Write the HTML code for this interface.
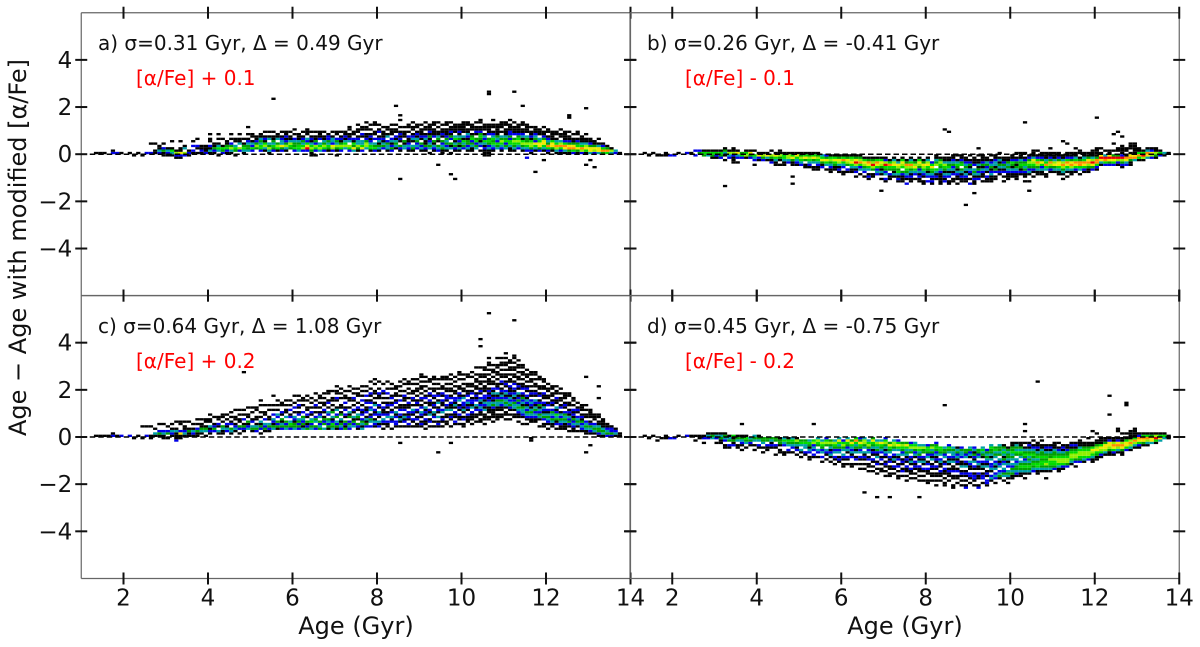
<!DOCTYPE html>
<html>
<head>
<meta charset="utf-8">
<title>Age residuals with modified alpha abundance</title>
<style>
html,body{margin:0;padding:0;background:#fff}
svg{display:block}
text{font-family:"DejaVu Sans","Liberation Sans",sans-serif;fill:#111}
</style>
</head>
<body>
<svg id="chart" xmlns="http://www.w3.org/2000/svg" width="1200" height="647" viewBox="0 0 1200 647">
<rect x="0" y="0" width="1200" height="647" fill="#fff"/>
<g id="cells"></g>
<g id="axes"></g>
<text x="98" y="50" font-size="20">a) σ=0.31 Gyr, Δ = 0.49 Gyr</text>
<text x="136" y="85" font-size="20" style="fill:#f00">[α/Fe] + 0.1</text>
<text x="647" y="50" font-size="20">b) σ=0.26 Gyr, Δ = -0.41 Gyr</text>
<text x="685" y="85" font-size="20" style="fill:#f00">[α/Fe] - 0.1</text>
<text x="98" y="333" font-size="20">c) σ=0.64 Gyr, Δ = 1.08 Gyr</text>
<text x="136" y="368" font-size="20" style="fill:#f00">[α/Fe] + 0.2</text>
<text x="647" y="333" font-size="20">d) σ=0.45 Gyr, Δ = -0.75 Gyr</text>
<text x="685" y="368" font-size="20" style="fill:#f00">[α/Fe] - 0.2</text>
<text x="356" y="634" font-size="24" text-anchor="middle">Age (Gyr)</text>
<text x="905" y="634" font-size="24" text-anchor="middle">Age (Gyr)</text>
<text transform="translate(26,247.5) rotate(-90)" font-size="24" text-anchor="middle">Age − Age with modified [α/Fe]</text>
</svg>
<script>
const xTickValues = [2,4,6,8,10,12,14];
const yTickValues = [-4,-2,0,2,4];
// each entry: [age in tenths of Gyr, lowest offset bin (0.1 Gyr), counts going upward; 0 = empty]
const panelACells = [
[13,0,1],[14,0,1],[15,0,1],[17,0,2,1],[18,0,2],[19,0,1],[21,0,1],[22,-1,1],[23,0,1],[24,-1,1],
[25,0,2],[26,0,2,0,0,0,1],[27,0,1,1,0,0,1],[28,0,2,3,1,1],[29,-1,1,1,4,2,0,1],[30,-1,1,2,3,1],[31,-1,1,3,5,1,0,0,1],
[32,-2,1,2,6,1],[33,-2,1,2,7,1,1,0,0,1],[34,-1,2,6,0,3,1],[35,-1,1,2,1],[36,0,1,2,0,2,0,1],[37,0,1,0,1,2,0,0,1],
[38,0,1,2,1,1],[39,0,2,1,1,1],[40,0,1,3,1,2,0,1,1,0,1],[41,0,1,2,4,1,1],[42,-1,1,0,3,5,3,1,0,1,0,1],
[43,0,2,4,5,1,0,0,1],[44,0,1,2,5,4,1,1],[45,0,1,3,6,4,2,0,1,0,1],[46,-1,1,0,4,5,3,0,1,1],[47,1,2,6,0,3,1,1,0,1],
[48,0,1,3,5,4,1,0,1],[49,1,3,4,4,3,2,1,0,1,0,0,1],[50,1,2,5,2,3,1,0,1,1],[51,1,0,4,6,4,2,1,1],[52,1,2,5,5,3,4,3,1,1],
[53,1,1,3,6,5,1,2,1,0,1],[54,0,1,3,6,4,3,0,3,1,0,1],[55,1,2,4,5,3,4,1,1,0,1],[55,23,1],[56,1,1,5,6,4,0,3,1,1],
[57,1,2,4,7,3,3,2,1,0,1],[58,1,1,3,6,4,2,1,2,1,1],[59,2,4,5,6,3,1,1,0,1],[60,1,2,5,4,4,3,2,0,1,0,1],
[61,1,3,5,5,4,3,1,1,1],[62,1,2,6,5,3,4,2,1,0,1],[63,1,2,9,7,5,2,3,0,1,1,1],[64,-1,1,1,4,6,5,3,1,2,1,0,1],[65,-1,1,0,2,5,6,2,4,1,1,0,1],
[66,1,3,6,5,3,0,2,1,1,1],[67,1,2,5,6,4,3,1,1,0,1],[68,1,1,4,5,3,4,2,2,1],[69,1,2,6,7,2,3,3,1,0,1],[70,-1,1,0,1,4,6,3,4,2,0,1,1],
[71,1,2,5,6,4,1,2,1,0,1],[72,1,0,3,6,5,3,1,2,1,1],[73,1,2,5,6,0,3,2,1,1,0,1,1],[74,1,3,7,4,5,1,2,0,1,1],[75,1,1,4,6,3,3,2,1,0,1,1,0,1],
[76,1,2,7,5,3,3,0,1,2,0,1,1],[77,1,0,3,6,6,4,2,1,1,0,1,1,0,1],[78,1,1,5,5,3,2,1,2,1,0,1,0,1],[79,1,2,5,4,3,0,2,0,1,1,0,0,1,1],
[80,1,1,3,4,1,3,2,1,0,2,1,0,1],[81,1,0,2,4,3,1,2,1,1,1,0,1],[82,1,1,3,3,4,2,0,3,1,0,1,1],[83,1,2,4,2,1,3,2,0,1,1,1,0,1],
[84,1,0,1,3,4,3,1,2,0,1,1,0,1],[84,20,1],[85,1,1,2,4,0,1,2,1,2,1,0,1,0,0,1],[85,16,1],[85,-11,1],[86,1,0,3,3,1,4,0,1,1,1,0,1],[87,1,1,2,3,2,1,1,2,0,1,0,1,1],
[88,1,1,4,3,0,1,3,2,1,0,1,1,0,1],[89,1,0,2,3,2,4,3,1,2,1,0,1,1],[90,1,1,3,2,4,0,1,2,1,1,1,0,1],[91,1,1,2,4,1,1,3,2,1,0,1,1,0,1],
[92,0,1,0,3,4,3,2,1,4,1,2,1,1,1],[93,1,1,2,3,1,4,0,2,1,1,1,0,1,1],[94,1,2,3,4,0,1,4,3,1,1,0,1,0,1],[94,-5,1],[95,0,1,1,4,3,2,4,0,1,2,1,1,0,1],
[96,1,1,3,2,4,3,4,2,1,1,1,0,1,1],[97,0,1,0,3,1,4,0,2,4,1,2,1,1,0,1],[97,-9,1],[98,1,1,2,4,3,1,5,3,0,1,1,1,1],[98,-11,1],[99,1,1,3,1,4,2,4,3,1,2,1,1,1],
[100,1,0,2,4,3,5,1,3,0,1,1,1,1,1],[101,1,1,3,2,4,4,1,2,3,1,1,0,1,1],[102,1,1,1,3,4,2,5,4,1,0,1,1,1],[103,1,0,3,4,2,5,4,0,1,2,1,1,0,1],
[104,1,1,0,2,3,1,4,5,4,2,1,1,0,1,1],[105,-1,1,1,1,2,1,3,5,2,3,1,0,1,1,1],[106,-1,1,1,1,3,2,4,5,4,0,2,1,1,1,1],[106,25,1,1],
[107,1,1,2,3,5,4,5,3,2,1,0,1,1,0,1],[108,1,0,3,4,5,2,3,4,1,1,1,1,1],[109,1,1,2,3,5,6,4,3,0,1,0,1,1,1],[110,1,0,3,4,2,5,4,3,1,1,1,0,1,1],
[111,1,1,1,3,5,5,2,4,2,2,1,1,1,0,1],[112,1,1,3,4,5,6,4,0,2,1,1,1,0,1],[112,26,1],[113,1,0,2,3,5,6,5,4,2,1,1,1,1],[114,1,1,3,4,6,5,1,3,2,1,1,0,1,1],[114,20,1],
[115,1,2,3,5,6,4,4,3,0,1,1,1,1],[115,-2,2],[116,0,1,2,4,6,6,5,1,2,1,1,0,1],[117,1,1,3,5,7,2,4,3,2,1,1,1],[117,-8,1],[118,1,2,4,7,7,5,3,0,1,1,1],
[119,1,1,3,5,7,7,4,2,1,1,0,1],[119,-3,1],[120,0,1,2,5,8,4,3,2,1,0,1,1],[121,1,1,4,7,7,5,1,1,1,1],[122,0,1,3,6,8,5,3,1,0,1,1],[123,0,1,2,5,8,6,3,0,1,1,0,1],
[124,0,1,3,7,8,5,2,1,1,1,1],[125,0,1,4,8,7,4,2,1,1,0,1],[125,15,1,1],[126,0,2,5,8,7,4,1,1,0,1],[127,0,1,4,7,5,4,2,1,0,1,1],[128,0,2,6,8,5,3,1,1,1],
[129,0,1,5,7,6,3,1,1,0,1],[129,19,1],[129,-5,1],[130,0,3,7,7,4,2,1,1],[130,-3,1],[131,0,2,6,7,4,1,1],[131,-6,1],[132,0,3,7,7,3,1,0,1],[133,0,4,8,5,2,1],[134,0,5,8,4,1],[135,0,3,6,1],[136,0,2,3],[137,0,1]
];
const panelBCells = [
[13,0,1],[14,-1,1],[15,0,1],[16,-1,1],[17,-1,1],[18,-1,1,1],[19,-1,2],[20,-1,2],[21,0,1],[23,0,2],[24,0,1],
[25,-1,2,0,2],[26,-1,0,4,2],[27,-1,4,5,1],[28,-1,3,5,1],[29,-2,1,4,5,1],[30,-2,1,2,5,1],[31,-2,2,4,5,1],[32,-3,1,0,1,3,4,1],
[32,-14,1],[33,-2,2,3,6,1],[34,-4,1,1,1,2,6,1,1],[35,-4,1,0,2,3,7,1],[36,-2,2,5,4],[37,-2,1,6,5,1],[38,-2,2,4,7,1],
[39,-5,1,0,2,3,5,0,1],[40,-3,1,2,7,1],[41,-3,2,4,6,1],[42,-3,1,3,7,1],[43,-4,2,1,4,6,0,1],[44,-5,1,1,3,5,7,1],
[45,-5,1,0,1,4,6,1,1],[46,-5,1,1,3,5,5,1],[47,-4,2,3,6,6,1],[48,-5,1,1,4,7,5,1],[48,-10,1],[48,-13,1],[49,-5,1,2,3,5,7,1],
[50,-5,2,3,5,6,4,1],[51,-6,1,1,0,4,7,5,1],[52,-6,1,2,3,5,6,4,1],[53,-7,1,1,0,3,4,7,5,1],[54,-7,1,1,2,3,5,6,4,1],[55,-6,2,1,4,7,5,3],
[56,-7,1,0,3,5,7,4,2],[57,-8,1,1,2,3,4,6,5,1],[58,-7,1,1,4,5,7,5,1],[59,-8,1,2,1,3,6,7,4,1],[60,-9,1,1,0,2,3,5,8,5,1],
[61,-8,1,2,0,4,6,7,4,1],[62,-8,1,1,3,5,7,6,5,1],[63,-10,1,0,2,1,3,6,9,7,4,1],[64,-9,1,0,3,2,5,8,6,4,1],[65,-10,1,0,2,3,4,6,7,5,1],
[66,-11,1,2,1,0,3,5,7,8,4,1],[67,-10,1,1,0,4,6,9,6,4,1],[68,-9,2,3,2,5,7,8,5,1],[69,-11,1,0,1,3,1,4,6,7,5,1],[69,-16,1],
[70,-12,1,2,0,3,2,4,5,9,6,2,1],[71,-11,1,1,2,0,4,5,8,5,1],[72,-10,1,3,1,4,5,7,6,3,1],[73,-12,1,2,1,3,5,4,6,7,3,1],
[74,-12,1,1,1,2,4,0,5,6,7,5,1],[75,-13,2,0,1,2,3,4,5,6,8,4,1],[76,-12,1,1,2,1,3,4,6,8,5,3,1],[77,-11,1,0,2,3,5,7,6,4,1],
[78,-12,1,1,2,1,3,2,4,6,7,5,1],[79,-13,1,1,0,1,2,3,5,6,7,4,1],[80,-12,2,0,2,3,1,4,5,7,6,3,1],[81,-13,1,2,1,2,3,4,5,7,5,2],
[82,-11,1,2,1,3,5,0,6,4,3,1,1],[83,-13,1,1,1,1,1,2,3,4,5,6,4,1],[84,-12,2,1,2,3,1,4,5,6,3,1,1],[84,10,1],[85,-13,1,1,0,2,3,1,3,5,4,3,1,1],[85,9,1],
[86,-12,1,1,0,2,1,3,2,4,3,2,1,1],[87,-13,1,0,1,1,2,3,1,4,5,3,1,0,1],[88,-12,1,1,2,1,3,4,0,5,4,2,1,1],[89,-12,1,1,2,3,1,3,4,3,2,1,1],[89,-22,1],
[90,-13,2,0,1,0,1,2,3,1,4,2,1,0,1],[91,-13,1,1,2,1,3,4,3,0,2,1,1,1],[91,-17,1],[92,-11,2,1,3,2,4,1,3,1,1,0,1],[92,2,1],[93,-12,1,0,1,1,2,3,1,4,2,1,1,1],
[94,-12,1,1,2,0,1,3,2,4,3,1,1],[95,-12,1,1,1,3,2,1,4,3,2,1,0,1],[96,-11,1,1,0,2,4,1,3,3,2,1,1],[97,-9,1,2,1,3,4,1,3,1,0,1],[98,-12,1,0,1,0,2,1,3,4,2,1,1],
[99,-11,1,1,1,2,3,4,3,4,1,1],[100,-10,1,1,2,3,1,4,5,2,1,1],[101,-11,1,1,1,2,3,4,1,4,2,1,0,1],[102,-9,1,2,1,4,5,4,3,1,1,1],[103,-12,1,0,1,1,2,4,3,5,4,2,1,0,1],
[103,13,1],[104,-12,1,0,0,1,3,2,4,5,6,4,2,1],[104,-16,1],[105,-10,1,0,1,2,4,5,6,7,3,1,1,1],[106,-9,1,1,3,4,6,8,5,2,1,0,1],[107,-9,1,1,3,2,5,7,4,2,1,1],
[108,-10,1,1,0,3,5,8,5,3,1,1,1],[109,-8,1,2,4,6,8,4,2,1,1,0,1],[110,-8,1,3,4,7,6,3,1,1,1],[111,-9,1,1,3,5,7,7,4,2,1,1],[112,-11,1,0,1,3,4,6,8,6,3,1,1],[112,5,1],
[113,-10,1,0,1,3,5,7,8,5,2,1,1],[113,4,1],[114,-9,1,1,3,6,8,7,4,2,1,1],[115,-8,1,2,5,7,8,5,3,1,1,0,1],[116,-9,1,0,3,5,8,8,4,1,0,1,1],
[117,-8,1,2,5,7,8,5,3,1,1],[118,-8,1,1,4,6,8,7,4,1,1],[119,-7,2,4,7,9,6,3,1,1,1],[120,-7,1,2,5,8,8,4,1,1,1,1],[120,15,1],
[121,-5,1,3,7,9,7,1,0,1],[122,-5,2,5,8,9,3,0,1],[123,-5,2,4,7,9,7,1,1],[124,-5,2,5,7,9,4,0,1],[124,4,1],[124,8,1],[125,-5,1,2,6,9,4,0,1,1],[125,9,1],
[126,-6,1,2,4,6,9,2,1,1,1,1],[126,7,1],[127,-5,2,3,7,8,1,0,1,1],[128,-5,1,1,4,8,7,1,0,1,1,1],[129,-3,3,8,7,1,1,1,1,1],[130,-3,1,5,8,5,1,1],
[131,-3,1,6,9,5,1],[132,-2,3,7,8,3,1],[133,-2,2,6,7,2,1],[134,-2,1,4,6,1,1],[135,-1,2,5,1],[136,-1,1,3],[137,0,1]
];
const panelCCells = [
[13,0,1],[14,0,1],[15,0,1],[16,0,1],[17,0,2,1],[18,0,1],[19,0,2],[21,0,2],[22,-1,1],[23,0,1],[24,-1,1,0,0,0,0,1],
[25,0,2,0,0,0,1],[26,-1,1,1,0,0,0,1],[27,0,1,3,0,1],[28,0,1,4,2,0,0,1],[29,-1,1,1,3,2,0,0,1],[30,-1,1,0,4,2,0,1],[31,0,1,2,3,1,0,1],
[32,-2,2,1,1,1,3,1,0,0,1],[33,-1,1,1,7,2,0,0,1,1],[34,0,1,3,2,1,1,0,1],[35,0,1,1,4,1,0,0,1],[36,0,1,2,3,1,0,1],[37,0,1,1,4,2,0,1,0,1],
[38,1,1,3,4,1,1,0,1],[39,0,1,0,3,4,1,0,1,1],[40,1,1,2,1,3,0,1,1,0,1],[41,1,0,2,4,2,1,0,0,1],[42,1,1,3,0,1,2,0,1,1],[43,1,1,1,3,4,0,1,0,1,1],
[44,1,0,2,3,1,2,0,1,0,1],[45,1,1,3,4,0,2,1,0,1,0,1],[46,2,1,3,2,1,0,1,1,0,0,1],[47,1,1,0,2,4,0,1,1,0,1,0,1],[48,2,1,2,4,1,0,2,0,1,0,1],
[48,27,1],[49,2,0,3,2,1,4,0,1,1,0,0,1],[50,2,1,4,3,0,2,1,0,0,1,0,1],[51,2,2,4,3,1,0,1,1,0,0,1,1],[52,1,1,0,2,4,1,3,0,1,0,1,0,0,1,0,1],
[53,2,1,4,2,3,0,2,0,1,1,0,0,1],[54,2,1,2,4,3,0,1,1,0,0,1,0,1],[55,2,0,3,4,1,2,3,0,2,0,1,0,1,0,0,0,1],[56,3,1,4,2,4,0,2,3,0,1,0,1,0,1],
[57,3,2,4,3,1,4,0,1,2,0,0,1,1],[58,3,3,4,2,4,0,3,0,1,1,0,1,0,1],[59,3,2,4,5,3,0,2,1,0,2,0,1,0,1],[60,3,3,4,4,1,2,3,0,1,0,2,0,1,0,0,1],
[61,3,2,4,2,4,3,0,2,1,0,1,2,0,1,0,1],[62,3,3,1,4,2,3,4,0,2,0,0,1,0,1,1],[63,3,4,2,1,4,0,1,2,0,1,1,0,0,1,0,1],[64,3,3,4,2,5,3,0,1,2,0,1,0,1,0,1],
[65,3,2,4,0,3,4,2,0,1,0,1,2,0,1,0,0,1],[66,3,4,3,2,4,0,3,2,1,0,1,0,1,0,1,1],[67,3,3,0,4,2,4,1,0,1,2,0,1,1,0,1,0,1],[68,3,1,4,2,3,4,0,2,3,0,1,0,2,1,0,0,1,1],
[69,3,3,4,5,2,1,3,0,4,1,0,1,0,1,1,0,0,1],[70,3,1,4,2,3,0,4,2,0,3,1,0,0,1,2,0,1,1,0,1],[71,3,2,3,4,1,3,0,4,1,0,1,1,0,0,1,0,1,0,1],
[72,3,4,1,2,4,0,1,2,0,2,1,0,2,0,1,1,0,1],[73,3,2,3,4,2,0,4,1,3,0,1,0,0,1,1,0,0,1,0,1],[74,4,3,2,4,1,3,0,1,2,0,1,0,1,2,0,1,0,1],
[75,3,1,2,4,0,1,4,3,0,1,2,0,1,0,0,1,1,0,1],[76,3,3,1,3,4,2,0,2,1,2,0,1,0,2,0,1,0,1,0,1],[77,4,2,4,1,3,1,0,2,1,1,0,2,1,0,2,0,1,0,1],
[78,4,2,0,3,4,2,1,0,3,2,0,2,1,0,1,2,0,1,0,0,1],[79,4,1,2,3,1,0,2,1,2,0,3,1,0,1,0,1,1,0,0,1,0,1],[80,4,2,1,3,0,1,2,3,0,1,2,0,0,1,1,2,0,1,0,0,1],
[81,3,1,0,1,2,3,0,2,1,1,2,0,1,0,1,0,1,2,0,0,1],[82,4,1,1,2,0,3,2,1,0,1,2,1,0,1,0,2,0,1,0,0,1],[83,3,1,0,0,2,1,3,0,2,1,0,2,1,0,2,1,0,0,1,0,1],
[84,4,1,2,2,0,2,1,3,0,1,0,2,1,0,1,1,0,1,1],[85,4,1,0,1,3,1,2,0,2,1,1,0,2,0,1,0,1,0,1,0,1],[85,-3,1],[86,4,1,0,2,1,3,1,0,2,1,1,0,1,1,2,0,1,0,0,1,0,1],
[87,4,1,2,0,1,2,1,2,0,1,1,2,0,1,0,1,0,1,0,1,1],[88,4,1,0,1,2,0,1,2,3,0,1,0,1,2,0,1,1,0,0,1,0,1],[89,4,1,1,0,2,1,0,1,2,0,1,2,1,0,1,0,1,1,0,1,0,1],
[90,4,1,2,1,0,1,2,3,0,2,1,0,1,2,0,1,0,1,1,0,1,0,1,1],[91,3,1,0,1,1,2,0,1,2,1,3,0,1,0,2,1,0,1,0,1,0,1,0,1],[92,4,1,0,2,1,0,3,1,2,0,1,1,2,0,1,2,0,1,0,0,1,1],
[93,4,1,0,1,0,2,1,3,0,1,2,1,0,1,2,0,1,1,0,1,0,1,1],[94,4,1,2,1,0,3,0,1,2,1,0,3,1,0,2,1,0,1,0,1,0,1],[94,-7,1],[95,4,1,0,1,2,1,0,3,2,0,1,1,2,0,1,2,0,1,1,0,0,1,1],
[96,5,1,1,0,1,1,0,3,1,2,0,1,2,2,0,1,1,0,1,0,1,1],[97,4,1,0,0,1,2,1,0,3,1,1,2,0,2,1,0,1,1,0,1,0,1,0,1],[97,-3,1],[98,5,1,2,0,1,1,2,0,1,3,1,2,2,0,1,1,0,1,0,1,0,1],
[99,5,1,0,1,1,2,0,1,2,1,0,3,2,1,2,0,1,1,0,0,1,0,1,1],[100,4,1,1,0,2,1,0,1,3,1,2,2,0,3,1,0,1,1,0,1,0,1,0,1],[101,6,1,1,1,2,0,1,2,1,3,2,0,2,1,1,0,1,1,0,0,1,1],
[102,5,1,0,1,1,1,2,0,3,1,2,2,1,0,2,1,0,1,1,0,0,1,0,1],[103,6,1,0,1,1,0,2,1,3,0,2,1,2,1,0,1,1,0,1,1,0,1,0,0,1],[104,6,1,1,0,1,1,2,3,2,1,3,2,0,1,2,1,0,1,1,0,1,1,0,0,1],
[104,38,1],[104,41,1],[105,5,1,0,1,1,1,0,3,1,2,3,1,2,2,0,1,1,1,0,1,0,1,1,0,1,1],[106,7,1,1,0,1,1,1,3,3,2,1,2,1,2,1,0,1,1,1,0,1,0,1,0,1,1,0,1],[106,52,1],
[107,6,1,0,1,1,1,1,2,4,3,1,2,1,3,1,2,0,1,1,0,1,0,1,1,0,1],[108,7,1,1,1,0,1,1,3,3,4,2,1,3,0,2,1,1,0,1,0,1,1,0,1,1,0,0,1],[109,8,1,1,0,1,1,2,3,4,2,3,1,2,1,0,1,2,0,1,1,0,1,0,1,1,0,1],
[110,7,1,0,1,1,0,1,3,4,3,2,1,3,2,0,1,2,1,0,1,1,0,1,0,1,1,0,1,0,1],[111,7,1,0,1,0,1,2,4,3,2,3,1,2,1,1,2,0,1,1,0,1,0,1,1,0,1,1],[112,8,1,1,0,1,3,3,4,2,1,3,2,1,2,0,2,1,0,1,1,0,1,1,0,1,0,1,1],[112,49,1],
[113,6,1,0,1,1,2,3,4,3,2,4,2,1,3,0,1,2,1,0,1,1,0,1,0,1,1,0,1],[114,5,1,0,0,1,2,3,3,4,1,3,2,4,1,2,0,2,1,1,0,1,0,1,1,0,1,1],[115,5,1,0,1,2,3,4,2,3,1,2,3,1,2,0,1,2,1,0,1,0,1,1,0,1],[116,-2,1,1,0,0,0,0,0,0,1,1,2,3,4,3,1,2,3,2,0,1,2,1,0,1,0,1,1,0,1,1],
[117,6,1,1,2,3,2,4,3,1,2,3,0,1,2,1,0,1,1,0,1,0,1,1],[118,4,1,0,0,1,3,4,2,3,1,4,2,1,0,2,1,0,1,1,0,0,1,1],[119,4,1,1,0,2,4,3,1,2,3,1,2,0,1,1,2,0,1,1,0,1,1],
[120,3,1,0,1,2,3,4,3,1,2,0,2,1,0,1,1,0,1,1,0,1],[121,4,1,1,3,4,2,3,4,2,0,1,2,1,0,1,1,0,1,1],[122,3,1,0,2,1,4,3,5,2,1,3,0,1,1,2,0,1,1,0,1],[123,3,1,1,2,3,4,2,3,1,0,2,1,0,1,1,0,1,0,1],
[124,3,1,1,1,3,4,3,4,2,0,1,2,1,0,1,1,1],[125,2,1,0,1,2,4,2,3,1,2,1,0,1,1,0,0,1,1],[126,2,1,1,2,3,2,4,1,2,1,2,0,1,0,1,1],[127,2,1,0,1,3,4,3,2,0,1,2,1,0,1],[128,2,1,2,3,2,4,1,2,1,0,1,1,1],
[129,1,1,1,3,4,3,2,0,1,1,0,1,0,1],[129,25,1],[129,-7,1],[130,1,1,2,3,4,2,1,0,1,1,1,1],[130,-4,1],[131,1,1,3,4,3,2,0,1,1,1],[132,0,1,2,4,4,3,1,1,0,1,1],[132,16,1,0,0,0,0,1],[133,0,1,3,4,3,1,1,1,1],[134,0,2,4,3,2,1,1],[135,0,2,4,2,2,1],[136,0,1,3,2,1],[137,0,1,1]
];
const panelDCells = [
[13,0,1],[14,-1,1],[15,0,1],[16,-2,1],[17,-1,1],[18,-1,1,1],[19,-1,2],[20,-1,2],[21,0,1],[23,0,2],[24,0,1],[25,-2,1,0,1],
[26,-1,1,1],[27,-3,1,0,2,1],[28,-1,2,3,1],[29,-1,3,4,1],[30,-3,1,0,2,3,1],[31,-3,1,1,4,3,1],[32,-5,1,1,0,2,3,4,1],[33,-5,1,2,0,4,3,1],[34,-4,2,1,4,1,5],[35,-5,1,1,0,3,4,1],
[36,-6,1,0,1,2,3,4,1],[36,5,1],[37,-5,1,0,3,4,5,1],[38,-4,1,2,4,3],[39,-6,1,0,1,0,3,4,3],[40,-5,1,2,0,3,4,1],[41,-7,1,0,1,0,3,4,4],[42,-6,1,1,2,0,4,4],
[43,-5,1,2,1,3,4],[44,-8,1,0,0,1,2,0,4,4],[45,-7,1,1,0,1,4,4,1],[46,-8,1,1,0,0,2,3,5,3],[47,-7,1,2,0,3,4,5,1],[48,-7,1,0,2,3,4,5,3],[49,-8,1,0,2,1,3,4,6,1],
[50,-9,1,0,1,3,0,3,5,4],[51,-8,1,2,0,3,3,5,4],[52,-10,1,1,0,2,3,1,4,5,3],[53,-9,1,2,0,2,3,2,6,5],[53,5,1],[54,-9,1,0,2,3,0,4,5,6,3],[55,-11,1,0,2,0,3,2,4,5,6,3],
[56,-10,1,0,1,2,3,0,4,6,5,2],[57,-11,1,0,1,3,2,1,3,4,6,4],[58,-12,1,0,1,2,0,3,2,4,5,6,3],[59,-11,1,2,1,0,3,2,4,3,5,7,3],[60,-13,1,1,0,1,2,3,0,3,4,6,5,2],
[61,-12,1,0,1,2,0,1,3,2,4,5,7,3],[62,-13,1,1,0,0,2,1,3,2,3,5,7,4],[63,-12,1,0,2,1,0,3,1,4,3,5,8,5],[64,-14,1,0,1,0,1,2,0,3,2,4,5,7,4,2],
[65,-14,1,0,1,0,1,2,1,3,0,3,4,6,6,3],[65,-24,1],[66,-15,1,0,1,1,0,2,1,0,3,2,4,6,5,3],[67,-15,1,0,1,0,1,2,0,1,2,1,3,4,5,7,4],[68,-16,1,0,1,0,2,1,0,3,1,2,4,3,5,6,3],[68,-26,1],
[69,-15,1,1,0,1,0,2,1,0,2,3,4,5,7,3],[70,-17,1,0,1,0,1,2,1,0,1,2,3,1,3,4,6,5,2],[71,-17,1,1,0,1,1,0,2,1,2,0,3,4,5,7,4],[71,-26,1],[72,-16,1,0,1,2,0,1,3,1,2,0,3,4,6,6,3],
[73,-18,1,1,0,1,0,2,1,0,2,1,3,0,3,5,7,5,2],[74,-17,1,0,2,1,0,1,2,1,0,3,2,4,5,6,4],[75,-19,1,0,1,0,1,1,2,0,1,2,1,3,4,3,5,7,4],[76,-18,1,0,1,1,2,0,1,3,1,2,0,4,3,6,5,2],
[77,-18,1,0,1,0,1,2,1,2,0,1,3,2,4,6,5,3],[78,-26,1,0,0,0,0,0,0,1,0,1,0,1,1,2,0,3,1,2,4,3,5,6,3],[79,-19,1,0,1,0,1,2,0,1,3,1,2,0,4,4,6,3],[80,-20,1,1,0,0,1,1,2,0,2,1,0,3,2,4,5,5,2],
[81,-19,1,0,1,1,0,1,2,1,0,3,1,2,4,3,6,4],[82,-21,1,0,1,0,1,1,0,1,2,0,1,2,1,3,2,4,5,4,2],[83,-19,1,0,1,1,2,0,1,1,3,2,0,3,4,5,5],[84,-21,1,1,0,1,0,1,1,2,0,2,1,0,3,2,4,4,3],[84,13,1],
[85,-19,1,0,1,1,2,1,0,1,3,1,2,0,3,4,5,2],[86,-22,1,1,0,0,1,1,0,2,1,1,0,3,1,2,3,3,4,3],[87,-20,1,0,1,1,0,2,1,0,1,2,1,3,2,4,3,1],[88,-21,1,0,1,0,1,2,1,0,3,1,1,0,2,3,3,4,2],
[89,-22,2,1,0,1,0,1,2,1,0,3,1,2,0,3,2,4,4],[90,-20,1,0,1,2,2,0,1,1,2,3,0,1,3,2,4,3],[91,-21,1,0,1,2,2,1,0,1,2,0,3,1,2,4,1,3,2],[92,-22,2,1,0,0,1,1,2,0,1,1,3,2,0,3,2,4,4],
[93,-20,1,0,2,2,1,0,1,3,1,2,0,1,4,3,5,3],[94,-21,1,2,2,0,1,2,1,0,3,1,2,3,4,3,4,2],[95,-19,1,3,2,0,1,3,2,2,0,3,1,3,4,4,5,3],[96,-20,1,0,2,3,2,0,3,1,3,2,0,3,4,3,5,4],
[97,-18,1,4,3,2,0,3,2,1,3,0,4,3,4,4,3],[98,-19,1,0,3,4,2,3,0,3,2,4,1,3,5,3,4,1],[99,-20,1,0,1,3,4,3,0,2,3,1,3,4,4,3,4,1],[100,-18,1,1,4,3,4,2,3,0,3,4,3,5,4,4,1,1],
[101,-17,1,2,3,4,4,3,2,3,0,4,5,3,4,3,1],[102,-17,1,1,3,4,5,4,3,0,3,4,5,3,4,1,1],[103,-18,1,0,1,3,4,5,4,3,2,4,5,4,3,1,0,1],[103,2,1],[103,5,1],[104,-16,1,3,4,5,4,3,4,3,5,4,3,1,2,1],
[105,-15,2,3,4,5,4,3,4,5,4,3,2,1,0,1],[106,-16,1,1,3,5,5,4,3,5,4,3,1,2,1,1],[106,23,1],[107,-15,1,3,4,5,5,4,5,4,4,3,1,1,0,1],[108,-18,1,0,0,1,3,4,6,5,4,5,4,3,1,2,1],[109,-15,1,3,4,5,5,6,4,4,3,1,2,1],[110,-14,2,4,5,5,6,5,4,4,3,1,1,1],
[111,-15,1,1,3,5,6,6,5,4,3,2,1,0,1],[112,-14,1,2,5,6,6,5,4,3,1,2,1],[113,-13,2,4,6,6,5,4,4,2,1,1],[114,-12,1,3,5,6,6,5,4,1,2,1],[115,-13,1,0,2,4,6,6,5,4,1,2,1],[116,-11,2,4,5,6,6,5,3,1,1,1],
[117,-11,1,3,5,6,6,5,4,1,1],[118,-10,2,5,6,6,5,4,1,1,0,1],[119,-11,1,1,3,5,6,7,5,1,1],[119,2,1],[120,-10,1,1,4,5,7,6,4,1,1],[120,1,1],[121,-9,1,2,5,6,7,5,1,1,1],[122,-8,1,3,6,7,7,4,1,1],
[123,-8,1,1,4,6,7,7,2,1],[123,9,1],[123,17,1],[124,-8,1,2,5,7,8,6,1,1],[125,-7,1,3,6,8,7,2,1],[125,2,1,1],[126,-8,1,1,4,7,8,6,1,1,0,1],[127,-6,2,5,7,7,5,1,0,1],[127,13,1],[127,14,1],
[128,-6,1,3,6,8,6,1,1,1,1],[129,-5,1,3,6,8,5,1,1,1,1],[130,-5,1,2,5,7,8,2,1],[131,-4,1,4,7,8,5,1],[132,-4,1,3,6,8,5,1],[133,-3,3,7,7,4,1],[134,-3,1,5,9,6,1],[135,-2,3,7,5,1],[136,-1,3,5,1],[137,-1,1,1]
];

const cellWidthGyr = 0.1;
const cellHeightGyr = 0.1;
const xPixelsPerGyr = 42.25;
const yPixelsPerGyr = 23.58;
const ns = 'http://www.w3.org/2000/svg';
const cellLayer = document.getElementById('cells');
const axisLayer = document.getElementById('axes');

function xScale(panel, age) { return panel.left + (age - 1) * xPixelsPerGyr; }
function yScale(panel, value) { return panel.zero - value * yPixelsPerGyr; }
function colorForCount(count) {
  const palette = ['#000000','#0000e8','#00a0a8','#00a000','#00dc00','#90f000','#f0e800','#ff8c00','#e80000'];
  return palette[Math.max(0, Math.min(palette.length - 1, Math.round(count) - 1))];
}
function addLine(x1, y1, x2, y2, stroke, width, name) {
  const l = document.createElementNS(ns, 'line');
  l.setAttribute('x1', x1); l.setAttribute('y1', y1);
  l.setAttribute('x2', x2); l.setAttribute('y2', y2);
  l.setAttribute('stroke', stroke); l.setAttribute('stroke-width', width);
  
  
  axisLayer.appendChild(l);
  return l;
}
function addLabel(x, y, str, anchor, name) {
  const t = document.createElementNS(ns, 'text');
  t.setAttribute('x', x); t.setAttribute('y', y);
  t.setAttribute('font-size', '23');
  t.setAttribute('text-anchor', anchor);
  
  
  t.textContent = str;
  axisLayer.appendChild(t);
}
function drawCells(panel, columns) {
  columns.forEach(function (col) {
    const age = col[0] / 10;
    const startBin = col[1];
    for (let i = 2; i < col.length; i++) {
      if (col[i] <= 0) continue;
      const low = (startBin + i - 2) * cellHeightGyr;
      const r = document.createElementNS(ns, 'rect');
      const x0 = xScale(panel, age);
      const y1 = yScale(panel, low + cellHeightGyr);
      r.setAttribute('x', x0.toFixed(2));
      r.setAttribute('y', y1.toFixed(2));
      r.setAttribute('width', (xScale(panel, age + cellWidthGyr) - x0).toFixed(2));
      r.setAttribute('height', (yScale(panel, low) - y1).toFixed(2));
      r.setAttribute('fill', colorForCount(col[i]));
      
      
      cellLayer.appendChild(r);
    }
  });
}
function drawAxes(panel, id, showXLabels, showYLabels) {
  const right = xScale(panel, 14);
  const top = panel.zero - 6 * yPixelsPerGyr;
  const bottom = panel.zero + 6 * yPixelsPerGyr;
  addLine(panel.left, panel.zero, right, panel.zero, '#000', 1.5, id + '-zero-line').setAttribute('stroke-dasharray', '5.5 3');
  addLine(panel.left, top, right, top, '#666', 1.2, id + '-top-spine');
  addLine(panel.left, bottom, right, bottom, '#666', 1.2, id + '-bottom-spine');
  addLine(panel.left, top, panel.left, bottom, '#666', 1.2, id + '-left-spine');
  addLine(right, top, right, bottom, '#666', 1.2, id + '-right-spine');
  xTickValues.forEach(function (v) {
    const x = xScale(panel, v);
    addLine(x, top - 6, x, top + 6, '#111', 2, id + '-x-tick-top');
    addLine(x, bottom - 6, x, bottom + 6, '#111', 2, id + '-x-tick-bottom');
    if (showXLabels) addLabel(x, bottom + 27, String(v), 'middle', id + '-x-tick-label');
  });
  yTickValues.forEach(function (v) {
    const y = yScale(panel, v);
    addLine(panel.left - 6, y, panel.left + 6, y, '#111', 2, id + '-y-tick-left');
    addLine(right - 6, y, right + 6, y, '#111', 2, id + '-y-tick-right');
    if (showYLabels) addLabel(panel.left - 9, y + 8, String(v).replace('-', '−'), 'end', id + '-y-tick-label');
  });
}
const panelA = { left: 81.25, zero: 154.2 };
const panelB = { left: 630, zero: 154.2 };
const panelC = { left: 81.25, zero: 437 };
const panelD = { left: 630, zero: 437 };
drawCells(panelA, panelACells);
drawCells(panelB, panelBCells);
drawCells(panelC, panelCCells);
drawCells(panelD, panelDCells);
drawAxes(panelA, 'panel-a', false, true);
drawAxes(panelB, 'panel-b', false, false);
drawAxes(panelC, 'panel-c', true, true);
drawAxes(panelD, 'panel-d', true, false);
</script>
</body>
</html>
